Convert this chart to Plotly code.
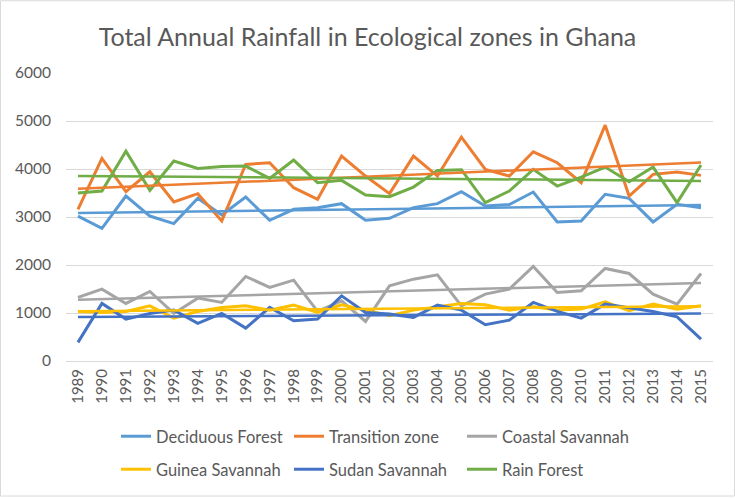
import numpy as np
import plotly.graph_objects as go

years = [str(y) for y in range(1989, 2016)]

deciduous_forest = [3020, 2765, 3437, 3020, 2862, 3389, 3042, 3416, 2931, 3160,
                    3195, 3278, 2931, 2973, 3195, 3278, 3528, 3229, 3260, 3520,
                    2897, 2918, 3472, 3389, 2897, 3264, 3195]
transition_zone = [3160, 4220, 3528, 3943, 3312, 3486, 2918, 4096, 4130, 3611,
                   3368, 4269, 3853, 3486, 4269, 3853, 4664, 3992, 3853, 4359,
                   4130, 3715, 4913, 3437, 3888, 3936, 3867]
coastal_savannah = [1324, 1497, 1199, 1449, 991, 1310, 1220, 1761, 1532, 1684,
                    1033, 1254, 825, 1566, 1705, 1794, 1150, 1393, 1497, 1969,
                    1428, 1462, 1927, 1823, 1393, 1185, 1823]
guinea_savannah = [1033, 1012, 1033, 1150, 894, 1033, 1116, 1150, 1060, 1164,
                   1012, 1171, 1060, 942, 1060, 1129, 1199, 1171, 1060, 1129,
                   1060, 1081, 1233, 1046, 1185, 1081, 1150]
sudan_savannah = [388, 1199, 873, 991, 1060, 783, 991, 686, 1116, 838,
                  873, 1358, 1012, 977, 908, 1164, 1060, 755, 852, 1220,
                  1033, 894, 1185, 1102, 1033, 921, 457]
rain_forest = [3500, 3541, 4372, 3555, 4165, 4013, 4054, 4061, 3805, 4186,
               3715, 3763, 3458, 3423, 3624, 3971, 3985, 3299, 3541, 3992,
               3645, 3832, 4040, 3735, 4040, 3299, 4082]

series = [
    ("Deciduous Forest", deciduous_forest, "#5B9BD5", "legend"),
    ("Transition zone", transition_zone, "#ED7D31", "legend"),
    ("Coastal Savannah", coastal_savannah, "#A5A5A5", "legend"),
    ("Guinea Savannah", guinea_savannah, "#FFC000", "legend2"),
    ("Sudan Savannah", sudan_savannah, "#4472C4", "legend2"),
    ("Rain Forest", rain_forest, "#70AD47", "legend2"),
]

FONT = "Lato"
TXT = "#595959"
W, H = 735, 498
ML, MR, MT, MB = 66, 22, 73, 136
PW, PH = W - ML - MR, H - MT - MB

fig = go.Figure()
for name, vals, col, lg in series:
    fig.add_trace(go.Scatter(x=years, y=vals, name=name, mode="lines",
                             legend=lg, line=dict(color=col, width=3)))

idx = np.arange(len(years))
for name, vals, col, lg in series:
    k, b = np.polyfit(idx, np.array(vals, dtype=float), 1)
    fig.add_trace(go.Scatter(x=years, y=k * idx + b, mode="lines",
                             showlegend=False, hoverinfo="skip",
                             line=dict(color=col, width=2.5)))

leg_common = dict(orientation="h", xanchor="left", yanchor="top",
                  x=(116 - ML) / PW, entrywidth=128, entrywidthmode="pixels",
                  font=dict(size=16.5, color=TXT, family=FONT),
                  bgcolor="rgba(0,0,0,0)")

fig.update_layout(
    width=W, height=H,
    margin=dict(l=ML, r=MR, t=MT, b=MB),
    paper_bgcolor="white", plot_bgcolor="white",
    font=dict(family=FONT, color=TXT),
    title=dict(text="Total Annual Rainfall in Ecological zones in Ghana",
               x=0.5, xanchor="center", xref="container",
               y=1 - 37 / H, yanchor="middle", yref="container",
               font=dict(size=25, color=TXT, family=FONT)),
    xaxis=dict(type="category", range=[-0.5, 26.5], tickangle=-90,
               showgrid=False, showline=False, ticks="",
               ticklabelstandoff=4, tickfont=dict(size=15, color=TXT)),
    yaxis=dict(range=[0, 6000], dtick=1000, showgrid=True,
               gridcolor="#D9D9D9", gridwidth=1, zeroline=True,
               zerolinecolor="#D9D9D9", zerolinewidth=1, showline=False,
               ticks="", ticklabelstandoff=14,
               tickfont=dict(size=15.5, color=TXT)),
    legend=dict(**leg_common, y=(H - MB - 419) / PH),
    legend2=dict(**leg_common, y=(H - MB - 452) / PH),
    shapes=[dict(type="rect", xref="paper", yref="paper",
                 x0=-(ML - 0.5) / PW, x1=1 + (MR - 0.5) / PW,
                 y0=-(MB - 0.5) / PH, y1=1 + (MT - 0.5) / PH,
                 line=dict(color="#D9D9D9", width=1), layer="below")],
)

fig.write_html("out.html", config=dict(displayModeBar=False),
               post_script="document.body.style.margin='0';")
